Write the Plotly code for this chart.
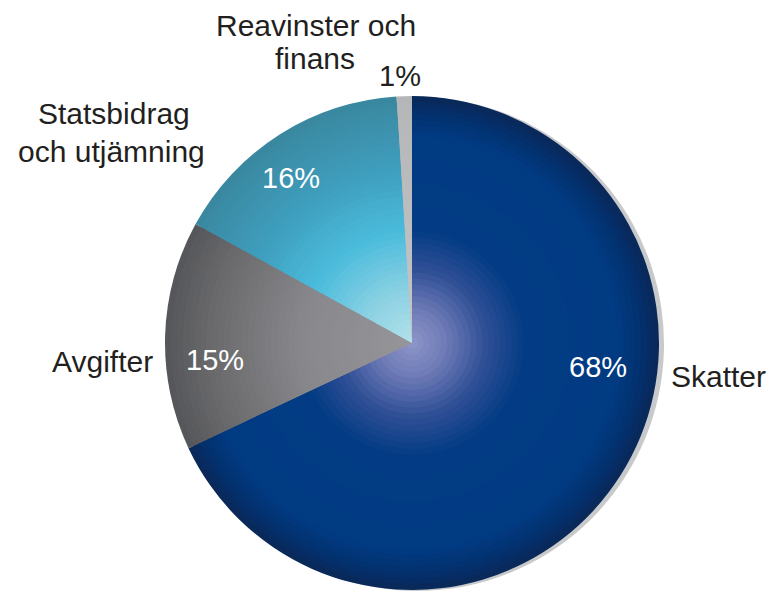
import plotly.graph_objects as go

# ---- data ----
categories = ["Skatter", "Avgifter", "Statsbidrag och utjämning", "Reavinster och finans"]
values = [68, 15, 16, 1]
pct_labels = ["68%", "15%", "16%", "1%"]

# ---- styling ----
W, H = 774, 593
CX, CY, R = 412, 343, 247  # pixel centre / radius of the pie

def hex2rgb(h):
    h = h.lstrip("#")
    return tuple(int(h[i:i + 2], 16) for i in (0, 2, 4))

def interp(stops, t):
    for (t0, c0), (t1, c1) in zip(stops[:-1], stops[1:]):
        if t0 <= t <= t1:
            a = (t - t0) / (t1 - t0) if t1 > t0 else 0
            r0, g0, b0 = hex2rgb(c0)
            r1, g1, b1 = hex2rgb(c1)
            return "rgb(%d,%d,%d)" % (round(r0 + (r1 - r0) * a), round(g0 + (g1 - g0) * a), round(b0 + (b1 - b0) * a))
    return "rgb(%d,%d,%d)" % hex2rgb(stops[-1][1])

grad_stops = [
    [(0, "#8e96c9"), (0.14, "#6d7ab6"), (0.3, "#2f4f96"), (0.46, "#033c84"), (0.84, "#013b82"), (0.93, "#03306e"), (1.0, "#0b2857")],
    [(0, "#95959a"), (0.45, "#88888c"), (0.8, "#6b6b6e"), (1.0, "#555659")],
    [(0, "#b2e1ea"), (0.2, "#8ed2e3"), (0.45, "#4bbcdc"), (0.7, "#3f9fbf"), (1.0, "#3a879f")],
    [(0, "#c4c5c7"), (1.0, "#b5b6b8")],
]

def domain(cx, cy, r):
    return dict(x=[(cx - r) / W, (cx + r) / W], y=[(H - cy - r) / H, (H - cy + r) / H])

fig = go.Figure()

# shadow
fig.add_trace(go.Pie(
    values=values, labels=categories, sort=False, direction="clockwise", rotation=0,
    marker=dict(colors=["#c8c9cb"] * len(values), line=dict(width=0)),
    textinfo="none", hoverinfo="skip", showlegend=False,
    domain=domain(CX + 5, CY + 1, R),
))

N = 42
for k in range(N):
    r = R * (1 - k / N)
    t = (1 - (k + 0.5) / N)
    cols = [interp(s, t) for s in grad_stops]
    fig.add_trace(go.Pie(
        values=values, labels=categories, sort=False, direction="clockwise", rotation=0,
        marker=dict(colors=cols, line=dict(width=0)),
        textinfo="none", hoverinfo="skip", showlegend=False,
        domain=domain(CX, CY, r),
    ))

def px(x, y):
    return x / W, 1 - y / H

ann = []
label_font = dict(family="Liberation Sans, Arial, sans-serif", size=30, color="#231f20")
pct_font = dict(family="Liberation Sans, Arial, sans-serif", size=29, color="white")

# percent labels
pct_pos = [(598, 367), (215, 360), (291, 178), (400, 76)]
for i, (x, y) in enumerate(pct_pos):
    xx, yy = px(x, y)
    f = dict(pct_font)
    if values[i] < 5:
        f["color"] = "#231f20"
    ann.append(dict(x=xx, y=yy, xref="paper", yref="paper", text=pct_labels[i], showarrow=False,
                    font=f, xanchor="center", yanchor="middle"))

# category labels (line by line)
name_lines = [
    [(718, 376, "Skatter")],
    [(102, 361, "Avgifter")],
    [(114, 114, "Statsbidrag"), (112, 152, "och utjämning")],
    [(316, 25, "Reavinster och"), (315, 58, "finans")],
]
for i, lines in enumerate(name_lines):
    for (x, y, txt) in lines:
        xx, yy = px(x, y)
        ann.append(dict(x=xx, y=yy, xref="paper", yref="paper", text=txt, showarrow=False,
                        font=label_font, xanchor="center", yanchor="middle"))

fig.update_layout(
    width=W, height=H, margin=dict(l=0, r=0, t=0, b=0),
    paper_bgcolor="white", plot_bgcolor="white",
    annotations=ann, showlegend=False,
)

fig.write_html("out.html", config={"displayModeBar": False},
               post_script="document.body.style.margin='0';document.body.style.overflow='hidden';")
